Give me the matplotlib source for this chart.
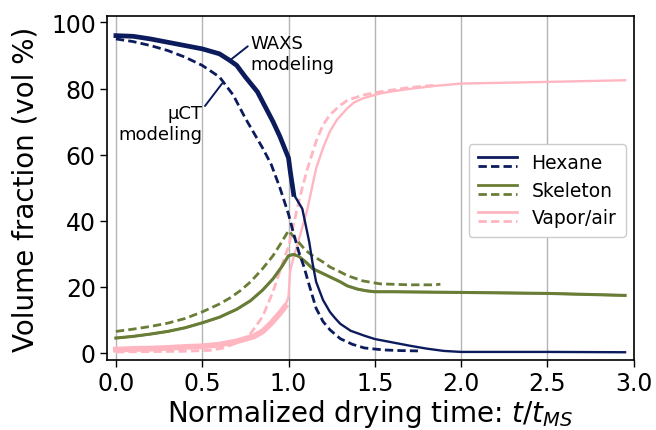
import numpy as np
import matplotlib
matplotlib.use('Agg')
import matplotlib.pyplot as plt
from matplotlib.legend_handler import HandlerBase
from matplotlib.lines import Line2D

NAVY, OLIVE, PINK = '#0c1b5c', '#6a7d36', '#ffb6c1'
DASH = (0, (3, 1.5))

# --- data (t / t_MS, vol %) ---
hex_t = [0, 0.1, 0.2, 0.3, 0.4, 0.5, 0.6, 0.66, 0.7, 0.75, 0.82, 0.91,
         0.95, 1.0, 1.01, 1.03, 1.08, 1.12, 1.14, 1.16, 1.2, 1.24, 1.27,
         1.3, 1.36, 1.44, 1.5, 1.6, 1.7, 1.8, 1.9, 2.0, 2.5, 2.95]
hex_waxs = [96, 95.8, 95, 94, 93, 92, 90.5, 88.5, 87, 83.5, 79, 70,
            65.5, 59, 55, 48, 43.6, 33.6, 27, 21.5, 16, 12.4, 10.5,
            8.8, 6.7, 5.2, 4.2, 3.2, 2.2, 1.3, 0.6, 0.3, 0.3, 0.2]

hex_ct_t = [0, 0.1, 0.2, 0.3, 0.4, 0.5, 0.6, 0.68, 0.75, 0.8, 0.85, 0.9,
            0.95, 1.0, 1.03, 1.06, 1.09, 1.12, 1.16, 1.2, 1.24, 1.3, 1.37,
            1.44, 1.55, 1.65, 1.75]
hex_ct = [95, 94.2, 93, 91.5, 89.5, 87, 83.5, 78, 71, 66.5, 62, 57,
          50, 42, 36, 30.5, 26, 20.5, 13.5, 9.5, 7, 4.3, 2.6,
          1.5, 0.9, 0.7, 0.6]

skel_t = [0, 0.1, 0.2, 0.3, 0.4, 0.5, 0.6, 0.7, 0.78, 0.85, 0.91, 0.96,
          1.0, 1.03, 1.06, 1.1, 1.14, 1.2, 1.24, 1.3, 1.34, 1.4, 1.45,
          1.5, 1.6, 1.8, 2.0, 2.5, 2.95]
skel_waxs = [4.5, 5, 5.7, 6.5, 7.6, 9.1, 10.8, 13.2, 15.8, 19, 22.4, 26,
             29.4, 29.8, 29.2, 27.5, 25.5, 24, 23, 21.5, 20.3, 19.3, 18.8,
             18.5, 18.5, 18.4, 18.3, 18, 17.4]

skel_ct_t = [0, 0.1, 0.2, 0.3, 0.4, 0.5, 0.6, 0.66, 0.72, 0.78, 0.85, 0.91,
             0.96, 1.0, 1.05, 1.1, 1.14, 1.2, 1.24, 1.3, 1.34, 1.43, 1.53,
             1.7, 1.85, 1.88]
skel_ct = [6.5, 7.2, 8, 9, 10.4, 12.4, 14.8, 16.6, 18.8, 21.5, 25.5, 29.4,
           33.5, 37, 34, 31, 29.4, 27.5, 26, 24.5, 23.4, 21.8, 20.9,
           20.6, 20.6, 20.8]

vap_t = [0, 0.1, 0.2, 0.3, 0.4, 0.5, 0.6, 0.7, 0.8, 0.85, 0.9, 0.95,
         0.98, 1.0, 1.01, 1.03, 1.05, 1.08, 1.11, 1.14, 1.16, 1.2, 1.24,
         1.28, 1.34, 1.38, 1.43, 1.53, 1.62, 1.72, 1.85, 2.0, 2.5, 2.95]
vap_waxs = [1, 1.2, 1.3, 1.5, 1.8, 2, 2.5, 3.5, 5, 6.5, 9, 12,
            14, 17, 25, 29, 32.5, 38, 43.6, 51, 55.8, 62, 67,
            70.5, 74, 75.8, 77, 78.5, 79.3, 80, 80.8, 81.5, 82, 82.5]

vap_ct_t = [0, 0.2, 0.4, 0.55, 0.62, 0.7, 0.78, 0.85, 0.91, 0.98, 1.0,
            1.05, 1.08, 1.11, 1.16, 1.2, 1.24, 1.29, 1.34, 1.43, 1.53,
            1.7, 1.85]
vap_ct = [0.3, 0.4, 0.5, 0.8, 1.5, 3, 5.8, 11, 18.5, 29.4, 32,
          43.6, 50, 55.8, 64, 69, 72, 74.5, 76.4, 78, 79,
          80.3, 81]

labels = ['Hexane', 'Skeleton', 'Vapor/air']


class SolidDashHandler(HandlerBase):
    """legend key: solid line on top, dashed line below"""
    def create_artists(self, legend, orig_handle, xdescent, ydescent,
                       width, height, fontsize, trans):
        c = orig_handle.get_color()
        x = [-xdescent, width - xdescent]
        top = Line2D(x, [height * 0.85 - ydescent] * 2, color=c, lw=2,
                     transform=trans)
        bot = Line2D(x, [height * 0.15 - ydescent] * 2, color=c, lw=2,
                     ls=DASH, transform=trans)
        return [top, bot]


fig = plt.figure(figsize=(6.56, 4.31), dpi=100)
ax = fig.add_axes([0.163, 0.162, 0.803, 0.799])

ax.grid(axis='x', color='#b4b4b4', lw=1)
ax.set_axisbelow(True)


def noisy(t, v, color, thick, tmax, z):
    t = np.asarray(t)
    v = np.asarray(v)
    ax.plot(t, v, color=color, lw=1.7, zorder=z)
    m = t <= tmax
    ax.plot(t[m], v[m], color=color, lw=thick, zorder=z)


noisy(vap_t, vap_waxs, PINK, 4.2, 0.99, 2)
ax.plot(vap_ct_t, vap_ct, color=PINK, lw=2, ls=DASH, zorder=2)
noisy(skel_t, skel_waxs, OLIVE, 2.2, 3.0, 3)
ax.plot(skel_ct_t, skel_ct, color=OLIVE, lw=2, ls=DASH, zorder=3)
noisy(hex_t, hex_waxs, NAVY, 3.4, 1.03, 4)
ax.plot(hex_ct_t, hex_ct, color=NAVY, lw=2, ls=DASH, zorder=4)

# annotations
ax.annotate('WAXS\nmodeling', xy=(0.66, 88.5), xytext=(0.78, 90.5),
            fontsize=13, ha='left', va='center',
            arrowprops=dict(arrowstyle='-', color=NAVY, lw=1.4,
                            shrinkA=0, shrinkB=0, relpos=(0, 0.75)))
ax.annotate('\u03bcCT\nmodeling', xy=(0.615, 81.5), xytext=(0.5, 69.5),
            fontsize=13, ha='right', va='center', multialignment='right',
            arrowprops=dict(arrowstyle='-', color=NAVY, lw=1.4,
                            shrinkA=0, shrinkB=0, relpos=(1, 0.85)))

ax.set_xlim(-0.052, 3.0)
ax.set_ylim(-2.2, 102)
ax.set_xticks(np.arange(0, 3.01, 0.5))
ax.set_yticks(np.arange(0, 101, 20))
ax.tick_params(labelsize=17, length=5, width=1, pad=3)
for s in ax.spines.values():
    s.set_linewidth(1.2)
ax.set_xlabel('Normalized drying time: $t/t_{MS}$', fontsize=20, labelpad=1)
ax.set_ylabel('Volume fraction (vol %)', fontsize=20, labelpad=8)

proxies = [Line2D([], [], color=c) for c in (NAVY, OLIVE, PINK)]
ax.legend(proxies, labels, handler_map={Line2D: SolidDashHandler()},
          loc='upper right', bbox_to_anchor=(0.985, 0.628), borderaxespad=0,
          fontsize=13.5, handlelength=2.1, handleheight=0.7,
          labelspacing=0.45, borderpad=0.5, handletextpad=0.75,
          framealpha=1)

fig.savefig('out.png', dpi=100)
